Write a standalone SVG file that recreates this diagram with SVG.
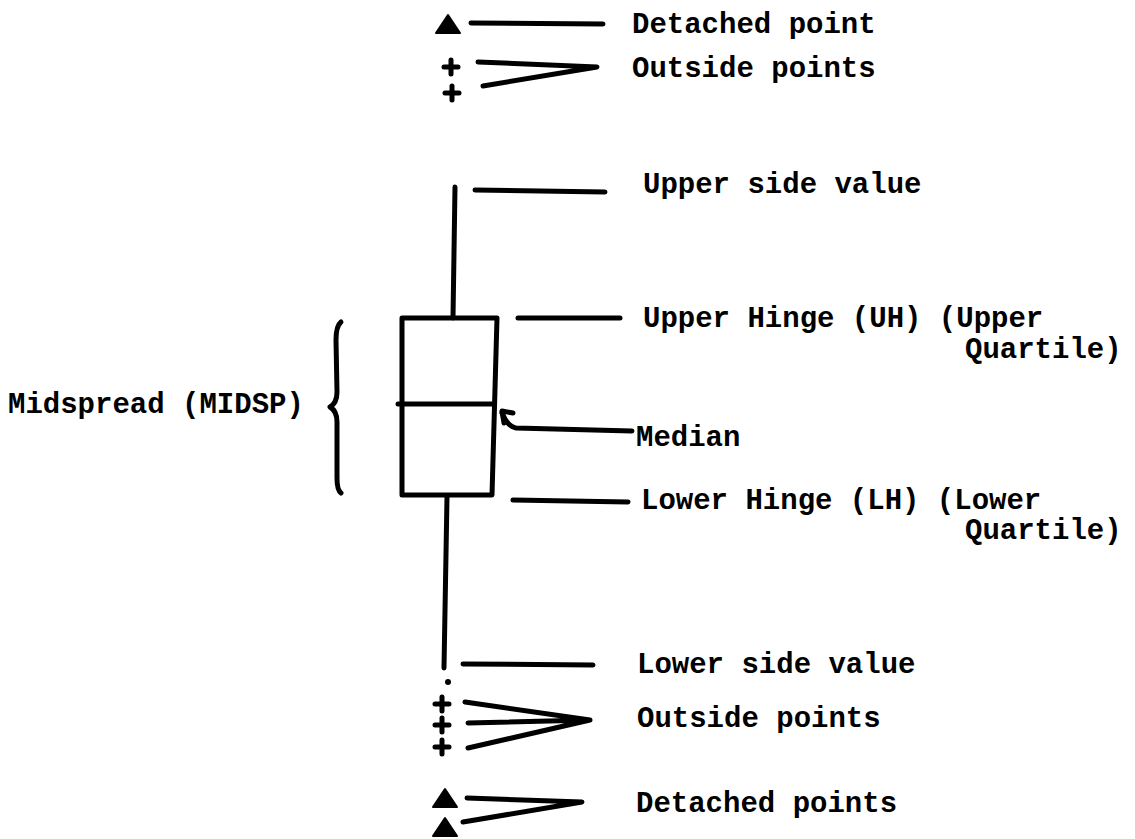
<svg xmlns="http://www.w3.org/2000/svg" width="1135" height="839" viewBox="0 0 1135 839">
<style>
.t{font-family:"Liberation Mono","Courier New",monospace;font-weight:bold;font-size:29px;fill:#000}
.ln{stroke:#000;stroke-width:5;stroke-linecap:round;stroke-linejoin:round;fill:none}
.pt{fill:#000}
</style>
<defs>
<path id="plus" d="M-7 0H7M0 -7V7" stroke="#000" stroke-width="5" stroke-linecap="round" fill="none"/>
<path id="tri" d="M-12 9 L0 -9 L12 9 Z" fill="#000" stroke="#000" stroke-width="2" stroke-linejoin="round"/>
</defs>
<rect width="1135" height="839" fill="#fff"/>

<g id="box">
<path class="ln" d="M402 318 L497 318 L492 495 L402 495 Z"/>
<path class="ln" d="M398 404 L492 404"/>
</g>
<g id="whiskers">
<path class="ln" d="M455 187 L453 318"/>
<path class="ln" d="M447 497 L444 668"/>
<circle class="pt" cx="448" cy="682" r="3"/>
</g>
<g id="brace">
<path class="ln" d="M341 322 Q336 326 336 340 L337 392 Q337 403 330 407 Q337 411 337 422 L337 478 Q337 490 341 493"/>
</g>
<g id="points">
<use href="#tri" x="448" y="24"/>
<use href="#plus" x="451" y="67"/>
<use href="#plus" x="452" y="93"/>
<use href="#plus" x="442" y="704"/>
<use href="#plus" x="442" y="725"/>
<use href="#plus" x="442" y="747"/>
<use href="#tri" x="445" y="798"/>
<use href="#tri" x="445" y="827"/>
</g>

<g id="connectors">
<path class="ln" d="M471 23 L603 24"/>
<path class="ln" d="M478 62 L597 67 L483 86"/>
<path class="ln" d="M475 190 L605 192"/>
<path class="ln" d="M518 318 L620 318"/>
<path class="ln" d="M632 431 L516 428 Q508 427 502 413" stroke-width="4"/>
<path class="ln" d="M513 413 L502 411 L504 423" stroke-width="4"/>
<path class="ln" d="M513 500 L628 502"/>
<path class="ln" d="M463 664 L593 665"/>
<path class="ln" d="M465 702 L590 720 L468 723 M590 720 L468 748"/>
<path class="ln" d="M467 798 L582 802 L463 822"/>
</g>

<g id="labels">
<text class="t" x="632" y="33">Detached point</text>
<text class="t" x="632" y="77">Outside points</text>
<text class="t" x="643" y="193">Upper side value</text>
<text class="t" x="643" y="327">Upper Hinge (UH) (Upper</text>
<text class="t" x="965" y="358">Quartile)</text>
<text class="t" x="636" y="446">Median</text>
<text class="t" x="641" y="509">Lower Hinge (LH) (Lower</text>
<text class="t" x="965" y="539">Quartile)</text>
<text class="t" x="637" y="673">Lower side value</text>
<text class="t" x="637" y="727">Outside points</text>
<text class="t" x="636" y="812">Detached points</text>
<text class="t" x="8" y="413">Midspread (MIDSP)</text>
</g>
</svg>
